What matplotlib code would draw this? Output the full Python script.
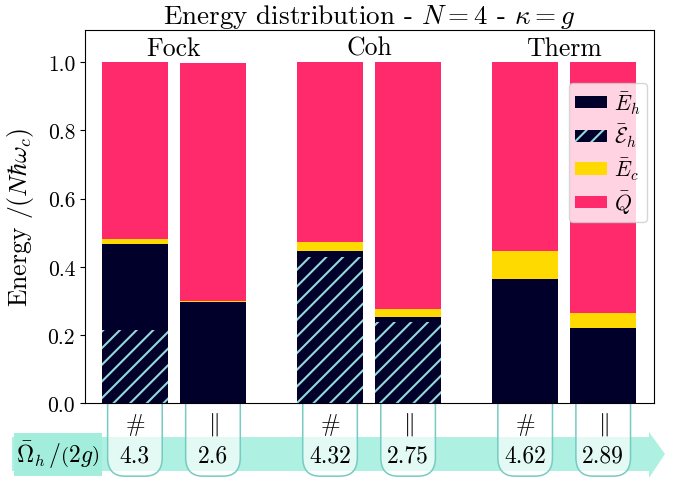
import numpy as np
import matplotlib
matplotlib.use("Agg")
import matplotlib.pyplot as plt
from matplotlib.path import Path
from matplotlib.patches import PathPatch, Polygon, Rectangle, Patch
from matplotlib.transforms import blended_transform_factory

plt.rcParams.update({
    "font.family": "serif",
    "font.serif": ["cmr10", "DejaVu Serif"],
    "mathtext.fontset": "cm",
    "axes.formatter.use_mathtext": True,
    "font.size": 15,
    "hatch.linewidth": 1.5,
})

NAVY = "#00002A"
PINK = "#FF2A6B"
YELLOW = "#FFDA00"
HATCH = "#94DADA"
TEAL = "#AEF0E2"
TEAL_BOX = "#A3EDDC"
TAB_EDGE = "#76CBC2"

states = ["Fock", "Coh", "Therm"]
protocols = ["#", "||"]
E_h = [0.467, 0.297, 0.446, 0.253, 0.364, 0.221]
Ecal_h = [0.213, 0.0, 0.429, 0.239, 0.0, 0.0]
E_c = [0.015, 0.002, 0.027, 0.023, 0.082, 0.043]
Q = [0.518, 0.700, 0.527, 0.724, 0.554, 0.736]
omega_labels = ["4.3", "2.6", "4.32", "2.75", "4.62", "2.89"]

# bar positions: pairs inside each state group
pos = np.array([g * 2.5 + p for g in range(len(states)) for p in range(len(protocols))])
width = 0.85

fig = plt.figure(figsize=(6.88, 4.81), dpi=100)
ax = fig.add_axes([0.1235, 0.160, 0.827, 0.7756])

bot_c = np.array(E_h)
bot_q = bot_c + np.array(E_c)
ax.bar(pos, E_h, width=width, color=NAVY, linewidth=0)
ax.bar(pos, Ecal_h, width=width, color=NAVY, edgecolor=HATCH, hatch="//", linewidth=0)
ax.bar(pos, E_c, width=width, bottom=bot_c, color=YELLOW, linewidth=0)
ax.bar(pos, Q, width=width, bottom=bot_q, color=PINK, linewidth=0)

ax.set_xlim(-0.64, 6.65)
ax.set_ylim(0, 1.095)
ax.set_xticks([])
ax.set_yticks(np.arange(0, 1.01, 0.2))
ax.tick_params(axis="y", labelsize=15.5)
ax.yaxis.set_major_formatter(matplotlib.ticker.FormatStrFormatter("%.1f"))
ax.set_ylabel(r"Energy $/(N\hbar\omega_c)$", fontsize=18.5)
ax.yaxis.set_label_coords(-0.086, 0.5)
ax.set_title(r"Energy distribution - $N=4$ - $\kappa=g$", fontsize=19.5, pad=3)

for g, name in enumerate(states):
    ax.text(pos[2 * g:2 * g + 2].mean(), 1.043, name, ha="center", va="center", fontsize=18.5)

handles = [
    Patch(facecolor=NAVY, label=r"$\bar{E}_h$"),
    Patch(facecolor=NAVY, edgecolor=HATCH, hatch="//", linewidth=0, label=r"$\bar{\mathcal{E}}_h$"),
    Patch(facecolor=YELLOW, label=r"$\bar{E}_c$"),
    Patch(facecolor=PINK, label=r"$\bar{Q}$"),
]
ax.legend(handles=handles, loc="upper right", bbox_to_anchor=(1.0, 0.875),
          borderaxespad=0.3, handlelength=1.5, handleheight=0.5, handletextpad=0.3,
          borderpad=0.3, labelspacing=0.3, fontsize=15.5)

# bottom arrow band and label box (figure coordinates)
W, H = 688.0, 481.0
def fp(x, y):
    return (x / W, 1 - y / H)

band = Polygon([fp(12, 438), fp(649, 438), fp(649, 433), fp(665, 455),
                fp(649, 479), fp(649, 472), fp(12, 472)],
               closed=True, facecolor=TEAL, edgecolor="none",
               transform=fig.transFigure, zorder=-2)
fig.patches.append(band)
box = Rectangle(fp(14, 477), 88 / W, 43 / H, facecolor=TEAL_BOX, edgecolor="none",
                transform=fig.transFigure, zorder=-1)
fig.patches.append(box)
fig.text(58 / W, 1 - 455 / H, r"$\bar{\Omega}_h\,/\left(2g\right)$", ha="center", va="center",
         fontsize=17)

# tabs under each bar
trans = blended_transform_factory(ax.transData, ax.transAxes)
half = 0.35
rx, ry = 0.22, 0.05
y_bot = -0.196
for xc, sym, val in zip(pos, protocols * len(states), omega_labels):
    x0, x1 = xc - half, xc + half
    verts = [(x0, 0), (x0, y_bot + ry), (x0, y_bot), (x0 + rx, y_bot),
             (x1 - rx, y_bot), (x1, y_bot), (x1, y_bot + ry), (x1, 0), (x0, 0)]
    codes = [Path.MOVETO, Path.LINETO, Path.CURVE3, Path.CURVE3,
             Path.LINETO, Path.CURVE3, Path.CURVE3, Path.LINETO, Path.CLOSEPOLY]
    ax.add_patch(PathPatch(Path(verts, codes), facecolor="white", alpha=0.65,
                           edgecolor="none", transform=trans, clip_on=False, zorder=1))
    ax.add_patch(PathPatch(Path(verts[:-1], codes[:-1]), facecolor="none",
                           edgecolor=TAB_EDGE, linewidth=1.1, transform=trans,
                           clip_on=False, zorder=1.1))
    s = r"$\#$" if sym == "#" else r"$\Vert$"
    ax.text(xc, -0.056, s, ha="center", va="center", transform=trans, fontsize=17)
    ax.text(xc, -0.14, val, ha="center", va="center", transform=trans, fontsize=17)

fig.savefig("out.png", dpi=100)
